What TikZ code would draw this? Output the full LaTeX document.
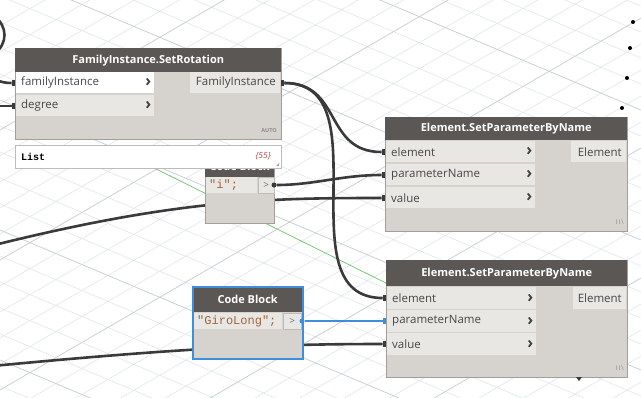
\documentclass[tikz,border=0pt]{standalone}
\usepackage{fontspec}
\setmainfont{Open Sans}
\setmonofont{Liberation Mono}
\usetikzlibrary{backgrounds}
\definecolor{hdrc}{HTML}{5B5754}
\definecolor{bodyc}{HTML}{D6D2CD}
\definecolor{rowc}{HTML}{E9E7E4}
\definecolor{edgec}{HTML}{A39E99}
\definecolor{wirec}{HTML}{3A3A3A}
\definecolor{dynblue}{HTML}{3D8EDB}
\definecolor{codec}{HTML}{A0643C}
\definecolor{gridc}{HTML}{DAE3EA}
\definecolor{gridd}{HTML}{C2CAD0}
\definecolor{listred}{HTML}{B54A3F}
\definecolor{axisg}{HTML}{6CC06C}
\tikzset{
  box/.style={draw=edgec,fill=bodyc,anchor=north west,inner sep=0,line width=0.8},
  hdr/.style={fill=hdrc,text=white,anchor=north west,inner sep=0,font=\fontsize{11}{12}\selectfont\bfseries},
  inrow/.style={fill=rowc,anchor=north west,inner xsep=5,inner ysep=0,minimum height=21,text width=#1,align=left,text=black!72,font=\fontsize{11.5}{12}\selectfont},
  outrow/.style={fill=rowc,anchor=north east,inner xsep=4,inner ysep=0,minimum height=21,text width=#1,align=right,text=black!72,font=\fontsize{11.5}{12}\selectfont},
  chev/.style={anchor=east,inner sep=0,text=black!75,font=\fontsize{16}{16}\selectfont\bfseries},
  codecell/.style={fill=rowc,anchor=north west,inner xsep=3,inner ysep=0,minimum height=16,text width=#1,align=left,text=codec,font=\fontsize{12}{13}\ttfamily},
  gtcell/.style={fill=rowc,draw=edgec!70,line width=0.4,anchor=north west,inner sep=0,minimum width=16,minimum height=16,text=black!55,font=\fontsize{10}{10}\selectfont},
  tag/.style={anchor=east,inner sep=0,text=black!45,font=\fontsize{5.5}{6}\selectfont\bfseries},
  inport/.style={fill=wirec,anchor=east,inner sep=0,minimum width=3,minimum height=6},
  outport/.style={fill=wirec,anchor=west,inner sep=0,minimum width=3,minimum height=6},
  wire/.style={wirec,line width=2.6},
  bwire/.style={dynblue,line width=2.2}
}
\begin{document}
\begin{tikzpicture}[x=1pt,y=-1pt]
\useasboundingbox (0,0) rectangle (641,397);
% FamilyInstance.SetRotation
\node[box,minimum width=266,minimum height=91] (fr) at (15,48) {};
\node[hdr,minimum width=266,minimum height=24] (frH) at (15,48) {FamilyInstance.SetRotation};
\node[inrow=128,fill=white] (frIn1) at (16,72) {familyInstance};
\node[inrow=128] (frIn2) at (16,95) {degree};
\node[chev] (frC1) at ([xshift=-3]frIn1.east) {›};
\node[chev] (frC2) at ([xshift=-3]frIn2.east) {›};
\node[outrow=82] (frOut) at (280,72) {FamilyInstance};
\node[tag] (frLace) at (277,131) {AUTO};
\node[inport] (frP1) at (15,83) {};
\node[inport] (frP2) at (15,106) {};
\node[outport] (frQ) at (281,83) {};
% code block "i" (partly under the watch list)
\node[box,minimum width=69,minimum height=68] (cbI) at (205,155) {};
\node[hdr,minimum width=69,minimum height=22] (cbIH) at (205,155) {Code Block};
\node[codecell=45] (cbIcode) at (206,177) {"i";};
\node[gtcell] (cbIgt) at (258,177) {>};
\node[circle,fill=wirec,inner sep=0,minimum size=5] (cbIQ) at (274,185) {};
% watch list
\node[box,fill=white,draw=edgec!70,minimum width=266,minimum height=23] (lst) at (15,145) {};
\node[anchor=west,inner sep=0,font=\fontsize{10}{10}\ttfamily\bfseries] (lstT) at (21,157) {List};
\node[anchor=east,inner sep=0,text=listred,font=\fontsize{8.5}{10}\selectfont\itshape] (lstN) at (271,156) {\{55\}};
\fill[black!35] (279,163) -- (279,166) -- (276,166) -- cycle;
% Element.SetParameterByName, top
\node[box,minimum width=242,minimum height=114] (spA) at (385,117) {};
\node[hdr,minimum width=242,minimum height=23] (spAH) at (385,117) {Element.SetParameterByName};
\node[inrow=139] (spAin1) at (386,141) {element};
\node[inrow=139] (spAin2) at (386,164) {parameterName};
\node[inrow=139] (spAin3) at (386,187) {value};
\foreach \r in {1,2,3} \node[chev] (spAC\r) at ([xshift=-3]spAin\r.east) {›};
\node[outrow=47] (spAout) at (626,141) {Element};
\node[tag,font=\fontsize{6.5}{7}\selectfont] (spALace) at (624,222) {I\,I\,\textbackslash};
\node[inport] (spAP1) at (385,152) {};
\node[inport] (spAP2) at (385,175) {};
\node[inport] (spAP3) at (385,198) {};
% code block "GiroLong"
\node[box,minimum width=109,minimum height=71] (cbG) at (193,287) {};
\node[hdr,minimum width=109,minimum height=25] (cbGH) at (193,287) {Code Block};
\node[codecell=82] (cbGcode) at (194,313) {"GiroLong";};
\node[gtcell,minimum width=18] (cbGgt) at (283,313) {>};
\draw[dynblue,line width=1.6] (cbG.north west) rectangle (cbG.south east);
\node[circle,fill=dynblue,inner sep=0,minimum size=5] (cbGQ) at (302,321) {};
% Element.SetParameterByName, bottom
\node[box,minimum width=241,minimum height=117] (spB) at (386,260) {};
\node[hdr,minimum width=241,minimum height=26] (spBH) at (386,260) {Element.SetParameterByName};
\node[inrow=139,minimum height=22] (spBin1) at (387,287) {element};
\node[inrow=139,minimum height=22] (spBin2) at (387,310) {parameterName};
\node[inrow=139,minimum height=22] (spBin3) at (387,333) {value};
\foreach \r in {1,2,3} \node[chev] (spBC\r) at ([xshift=-3]spBin\r.east) {›};
\node[outrow=45,minimum height=22] (spBout) at (626,287) {Element};
\node[tag,font=\fontsize{6.5}{7}\selectfont] (spBLace) at (624,368) {I\,I\,\textbackslash};
\node[inport] (spBP1) at (386,298) {};
\node[inport,fill=dynblue] (spBP2) at (386,321) {};
\node[inport] (spBP3) at (386,344) {};
\fill[wirec] (576,377) -- (582,377) -- (579,381) -- cycle;
% loose ends
\coordinate (tlA) at (-6,16);
\coordinate (tlB) at (-6,54);
\coordinate (lfF) at (-40,66);
\coordinate (lfD) at (-20,106);
\coordinate (lfA) at (-100,270);
\coordinate (lfB) at (-100,375);
\foreach \p in {(633,22),(630,48),(627,78),(622,108)} \fill[black] \p circle (2);
\begin{pgfonlayer}{background}
\fill[white] (0,0) rectangle (641,397);
\begin{scope}
\clip (0,0) rectangle (641,397);
\foreach \c in {-420,-394,...,420} \draw[gridc,line width=0.5] (0,\c) -- (641,{\c+270});
\foreach \c in {0,26,...,780} \draw[gridc,line width=0.5] (0,\c) -- (641,{\c-372});
\foreach \c in {-420,-290,...,420} \draw[gridd,line width=0.5] (0,\c) -- (641,{\c+270});
\foreach \c in {0,130,...,780} \draw[gridd,line width=0.5] (0,\c) -- (641,{\c-372});
\draw[axisg,line width=0.7] (140,161) -- (400,290);
\draw[wire] (tlA) .. controls (8,26) and (8,44) .. (tlB);
\draw[wire] (lfF) .. controls +(32,0) and +(-25,0) .. (frP1.west);
\draw[wire] (lfD) -- (frP2.west);
\draw[wire] (frQ.east) .. controls +(58,0) and +(-58,0) .. (spAP1.west);
\draw[wire] (frQ.east) .. controls +(100,0) and +(-100,0) .. (spBP1.west);
\draw[wire] (cbIQ) .. controls +(40,0) and +(-40,0) .. (spAP2.west);
\draw[wire] (lfA) .. controls (150,200) and (250,198) .. (spAP3.west);
\draw[wire] (lfB) .. controls (150,350) and (250,344) .. (spBP3.west);
\draw[bwire] (cbGQ) -- (spBP2.west);
\end{scope}
\end{pgfonlayer}
\end{tikzpicture}
\end{document}
